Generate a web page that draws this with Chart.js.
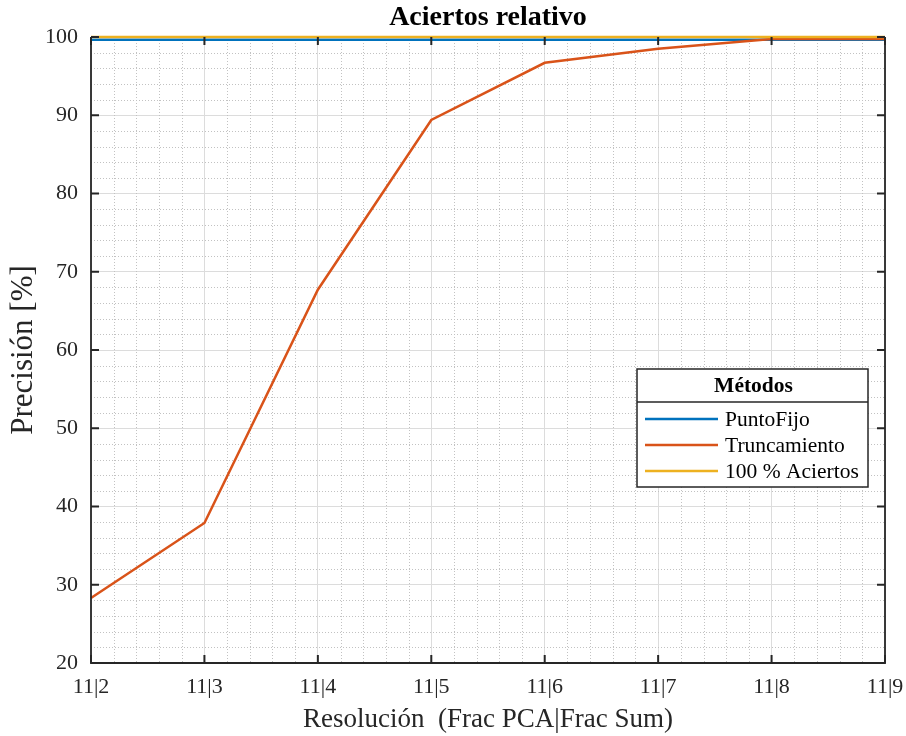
<!doctype html>
<html>
<head>
    <title>Aciertos relativo</title>
    <script src="https://cdn.jsdelivr.net/npm/chart.js@4/dist/chart.umd.min.js"></script>
    <style>
        body { margin: 0; background: #fff; }
        #container { width: 906px; height: 736px; }
    </style>
</head>
<body>
    <div id="container">
        <canvas id="canvas" width="906" height="736"></canvas>
    </div>
    <script>
        // data
        var resoluciones = ['11|2', '11|3', '11|4', '11|5', '11|6', '11|7', '11|8', '11|9'];
        var puntoFijo = [99.65, 99.65, 99.65, 99.65, 99.65, 99.65, 99.65, 99.65];
        var truncamiento = [28.3, 37.9, 67.7, 89.4, 96.7, 98.5, 99.75, 99.75];
        var aciertos100 = [100, 100, 100, 100, 100, 100, 100, 100];
        var yTicks = [20, 30, 40, 50, 60, 70, 80, 90, 100];

        var azul = '#0072BD';
        var naranja = '#D95319';
        var amarillo = '#EDB120';
        var ejes = '#262626';
        var fuente = "'Liberation Serif', 'Times New Roman', serif";

        function puntos(valores) {
            return valores.map(function (v, i) { return { x: i, y: v }; });
        }

        // title, minor grid, box, inner ticks and the legend box, MATLAB style
        var matlabAxes = {
            id: 'matlabAxes',
            beforeDatasetsDraw: function (chart) {
                var ctx = chart.ctx, a = chart.chartArea;
                var xs = chart.scales.x, ys = chart.scales.y;
                ctx.save();
                ctx.strokeStyle = '#c2c2c2';
                ctx.lineWidth = 1;
                ctx.setLineDash([1, 2]);
                for (var v = 22; v < 100; v += 2) {
                    if (v % 10 === 0) continue;
                    var py = Math.round(ys.getPixelForValue(v)) + 0.5;
                    ctx.beginPath(); ctx.moveTo(a.left, py); ctx.lineTo(a.right, py); ctx.stroke();
                }
                for (var k = 1; k < 35; k++) {
                    if (k % 5 === 0) continue;
                    var px = Math.round(xs.getPixelForValue(k / 5)) + 0.5;
                    ctx.beginPath(); ctx.moveTo(px, a.top); ctx.lineTo(px, a.bottom); ctx.stroke();
                }
                ctx.restore();
            },
            afterDatasetsDraw: function (chart) {
                var ctx = chart.ctx, a = chart.chartArea;
                var xs = chart.scales.x, ys = chart.scales.y;
                ctx.save();
                // title
                ctx.fillStyle = '#000';
                ctx.font = 'bold 28px ' + fuente;
                ctx.textAlign = 'center';
                ctx.textBaseline = 'middle';
                ctx.fillText('Aciertos relativo', (a.left + a.right) / 2, 18);

                ctx.strokeStyle = ejes;
                ctx.lineWidth = 1.8;
                ctx.setLineDash([]);
                ctx.beginPath();
                ctx.moveTo(a.left, a.top); ctx.lineTo(a.left, a.bottom); ctx.lineTo(a.right, a.bottom); ctx.lineTo(a.right, a.top);
                ctx.stroke();
                var len = 8;
                ctx.lineWidth = 2;
                resoluciones.forEach(function (r, i) {
                    var px = xs.getPixelForValue(i);
                    ctx.beginPath();
                    ctx.moveTo(px, a.bottom); ctx.lineTo(px, a.bottom - len);
                    ctx.moveTo(px, a.top); ctx.lineTo(px, a.top + len);
                    ctx.stroke();
                });
                yTicks.forEach(function (t) {
                    var py = ys.getPixelForValue(t);
                    ctx.beginPath();
                    ctx.moveTo(a.left, py); ctx.lineTo(a.left + len, py);
                    ctx.moveTo(a.right, py); ctx.lineTo(a.right - len, py);
                    ctx.stroke();
                });

                // legend
                var lx = 637, ly = 369, lw = 231, lh = 118;
                ctx.fillStyle = '#fff';
                ctx.fillRect(lx, ly, lw, lh);
                ctx.strokeStyle = ejes;
                ctx.lineWidth = 1.5;
                ctx.strokeRect(lx, ly, lw, lh);
                ctx.beginPath(); ctx.moveTo(lx, 402); ctx.lineTo(lx + lw, 402); ctx.stroke();
                ctx.fillStyle = '#000';
                ctx.font = 'bold 21.5px ' + fuente;
                ctx.textAlign = 'center';
                ctx.fillText('Métodos', lx + lw / 2 + 1, 386);
                ctx.font = '21.5px ' + fuente;
                ctx.textAlign = 'left';
                var filas = [419, 445, 471];
                chart.data.datasets.forEach(function (ds, i) {
                    ctx.strokeStyle = ds.borderColor;
                    ctx.lineWidth = 2.5;
                    ctx.beginPath(); ctx.moveTo(645, filas[i]); ctx.lineTo(718, filas[i]); ctx.stroke();
                    ctx.fillStyle = '#000';
                    ctx.fillText(ds.label, 725, filas[i] + 1);
                });
                ctx.restore();
            }
        };

        window.onload = function () {
            var ctx = document.getElementById('canvas').getContext('2d');
            window.myLine = new Chart(ctx, {
                type: 'line',
                data: {
                    datasets: [{
                        label: 'PuntoFijo',
                        data: puntos(puntoFijo),
                        borderColor: azul,
                        order: 3
                    }, {
                        label: 'Truncamiento',
                        data: puntos(truncamiento),
                        borderColor: naranja,
                        order: 2
                    }, {
                        label: '100 % Aciertos',
                        data: puntos(aciertos100),
                        borderColor: amarillo,
                        order: 1
                    }]
                },
                options: {
                    responsive: false,
                    animation: false,
                    layout: { padding: { left: 0, right: 21, top: 37, bottom: 0 } },
                    elements: {
                        line: { borderWidth: 2.5, tension: 0 },
                        point: { radius: 0 }
                    },
                    datasets: { line: { clip: false } },
                    plugins: {
                        legend: { display: false },
                        tooltip: { enabled: false },
                        title: { display: false }
                    },
                    scales: {
                        x: {
                            type: 'linear',
                            min: 0,
                            max: resoluciones.length - 1,
                            afterFit: function (s) { s.height = 73; s.paddingLeft = 0; s.paddingRight = 0; },
                            afterBuildTicks: function (s) {
                                s.ticks = resoluciones.map(function (r, i) { return { value: i }; });
                            },
                            ticks: {
                                color: ejes,
                                font: { family: fuente, size: 22 },
                                padding: 11,
                                maxRotation: 0,
                                autoSkip: false,
                                callback: function (v) { return resoluciones[v]; }
                            },
                            grid: { color: '#dcdcdc', lineWidth: 1, drawTicks: false },
                            border: { display: false },
                            title: {
                                display: true,
                                text: 'Resolución  (Frac PCA|Frac Sum)',
                                color: ejes,
                                font: { family: fuente, size: 27 },
                                padding: { top: 0, bottom: 0 }
                            }
                        },
                        y: {
                            min: 20,
                            max: 100,
                            afterFit: function (s) { s.width = 91; s.paddingTop = 0; s.paddingBottom = 0; },
                            afterBuildTicks: function (s) {
                                s.ticks = yTicks.map(function (t) { return { value: t }; });
                            },
                            ticks: {
                                color: ejes,
                                font: { family: fuente, size: 22 },
                                padding: 13,
                                autoSkip: false
                            },
                            grid: { color: '#dcdcdc', lineWidth: 1, drawTicks: false },
                            border: { display: false },
                            title: {
                                display: true,
                                text: 'Precisión [%]',
                                color: ejes,
                                font: { family: fuente, size: 31 },
                                padding: { top: 5, bottom: 0 }
                            }
                        }
                    }
                },
                plugins: [matlabAxes]
            });
        };
    </script>
</body>
</html>
